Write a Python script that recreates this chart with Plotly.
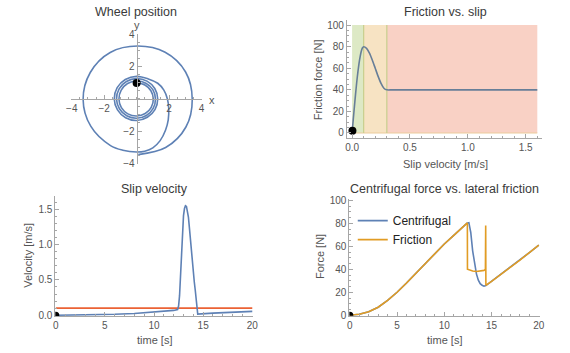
import plotly.graph_objects as go

FONT = "Liberation Sans"
BLUE = "#5E81B5"
ORANGE = "#E19C24"
RED = "#EB6235"
AX = "#a6a6a6"
TXT = "#555555"
TTL = "#3a3a3a"

# ---------------- data ----------------
# Wheel position
wheel_x = [0.00, 0.51, 0.88, 1.03, 0.90, 0.53, 0.00, -0.54, -0.94, -1.09, -0.95, -0.56,
           0.00, 0.57, 1.00, 1.16, 1.02, 0.60, 0.00, -0.61, -1.06, -1.24, -1.08, -0.63,
           0.00, 0.64, 1.12, 1.30, 1.13, 0.66, 0.00, -0.68, -1.18, -1.38, -1.20, -0.70,
           0.00, 0.72, 1.30, 1.68, 1.90, 1.98, 1.95, 1.78, 1.45, 1.00, 0.50, 0.00,
           -0.85, -1.61, -2.83, -3.30, -2.86, -1.63, 0.06, 1.76, 3.02, 3.43, 3.04, 1.79, 0.10]
wheel_y = [1.00, 0.87, 0.51, 0.00, -0.52, -0.91, -1.06, -0.93, -0.54, 0.00, 0.55, 0.96,
           1.12, 0.98, 0.58, 0.00, -0.59, -1.03, -1.20, -1.05, -0.61, 0.00, 0.63, 1.09,
           1.27, 1.11, 0.65, 0.00, -0.66, -1.14, -1.34, -1.17, -0.68, 0.00, 0.70, 1.21,
           1.41, 1.25, 0.98, 0.55, 0.00, -0.60, -1.30, -1.95, -2.60, -3.05, -3.26, -3.31,
           -3.20, -2.91, -1.70, -0.03, 1.65, 2.90, 3.30, 2.91, 1.68, -0.03, -1.75, -3.03, -3.47]
wheel_start = (0.0, 1.0)

# Friction vs slip
slip_v = [0, 0.01, 0.02, 0.03, 0.04, 0.05, 0.06, 0.07, 0.08, 0.09, 0.10,
          0.125, 0.15, 0.175, 0.2, 0.225, 0.25, 0.275, 0.3, 0.35, 1.6]
fric_f = [0, 12.5, 24.5, 36, 47, 56.5, 64.5, 71, 76, 79, 80,
          78.5, 74, 67.5, 60, 52.5, 46, 41.5, 40, 40, 40]
zone_edges = [0.0, 0.1, 0.3, 1.6]
zone_top = 100
zone_fill = ["#dde9c5", "#f7e3c3", "#f9d1c5"]
zone_line = "#c7cf8c"
slip_point = (0.003, 2)

# Slip velocity
t_slip = [0, 2, 4, 6, 8, 10, 11, 12, 12.4, 12.5, 12.6, 12.7, 12.8, 12.9, 13.0, 13.1,
          13.2, 13.3, 13.4, 13.5, 13.6, 13.7, 13.8, 13.9, 14.0, 14.1, 14.2, 14.3,
          14.4, 14.45, 16, 18, 20]
v_slip = [0, 0.002, 0.006, 0.014, 0.025, 0.042, 0.053, 0.068, 0.08, 0.13, 0.28, 0.55,
          0.98, 1.25, 1.41, 1.51, 1.55, 1.54, 1.48, 1.39, 1.24, 1.06, 0.89, 0.74, 0.60,
          0.47, 0.35, 0.20, 0.04, 0.015, 0.03, 0.042, 0.055]
slip_limit = 0.1
t_range = [0, 20]

# Centrifugal vs friction
t_cent = [0, 1, 2, 3, 4, 5, 6, 7, 8, 9, 10, 11, 12, 12.4, 12.6, 12.8, 13.0, 13.2,
          13.4, 13.6, 13.8, 14.0, 14.2, 14.4, 15, 16, 17, 18, 19, 20]
f_cent = [0, 0.8, 3, 7, 13, 20, 28, 36.5, 45.5, 54, 62, 69.5, 76.5, 80, 80.5, 72,
          56, 44, 36, 30.5, 27.5, 26, 25.3, 25.8, 29.5, 35.5, 41.5, 48, 54.5, 61]
t_fric = [0, 1, 2, 3, 4, 5, 6, 7, 8, 9, 10, 11, 12, 12.4, 12.44, 12.45, 12.6, 13.0,
          13.4, 13.8, 14.2, 14.35, 14.36, 14.38, 14.40, 15, 16, 17, 18, 19, 20]
f_fric = [0, 0.8, 3, 7, 13, 20, 28, 36.5, 45.5, 54, 62, 69.5, 76.5, 80, 80.3, 40,
          39.5, 38.5, 38, 38.2, 39, 40, 78, 78, 26, 29.5, 35.5, 41.5, 48, 54.5, 61]

# ---------------- figure ----------------
fig = go.Figure()

# Panel 1
fig.add_trace(go.Scatter(x=wheel_x, y=wheel_y, mode="lines", xaxis="x", yaxis="y",
                         line=dict(color=BLUE, width=1.6, shape="spline", smoothing=1.0),
                         showlegend=False))
fig.add_trace(go.Scatter(x=[wheel_start[0]], y=[wheel_start[1]], mode="markers",
                         xaxis="x", yaxis="y", marker=dict(color="black", size=8),
                         showlegend=False))

# Panel 2 zones
for i in range(len(zone_fill)):
    fig.add_trace(go.Scatter(x=[zone_edges[i], zone_edges[i], zone_edges[i + 1], zone_edges[i + 1]],
                             y=[0, zone_top, zone_top, 0], mode="lines", fill="toself",
                             fillcolor=zone_fill[i], line=dict(width=0),
                             xaxis="x2", yaxis="y2", showlegend=False, hoverinfo="skip"))
fig.add_trace(go.Scatter(x=[zone_edges[0], zone_edges[-1]], y=[0, 0], mode="lines",
                         line=dict(color="#eccb9c", width=1.2), xaxis="x2", yaxis="y2",
                         showlegend=False))
for e in zone_edges[1:3]:
    fig.add_trace(go.Scatter(x=[e, e], y=[0, zone_top], mode="lines",
                             line=dict(color=zone_line, width=1.2), xaxis="x2", yaxis="y2",
                             showlegend=False))
fig.add_trace(go.Scatter(x=slip_v, y=fric_f, mode="lines", xaxis="x2", yaxis="y2",
                         line=dict(color="#677e98", width=1.6, shape="spline", smoothing=0.6),
                         showlegend=False))
fig.add_trace(go.Scatter(x=[slip_point[0]], y=[slip_point[1]], mode="markers",
                         xaxis="x2", yaxis="y2", marker=dict(color="black", size=8),
                         cliponaxis=False, showlegend=False))

# Panel 3
fig.add_trace(go.Scatter(x=t_range, y=[slip_limit, slip_limit], mode="lines",
                         xaxis="x3", yaxis="y3", line=dict(color=RED, width=1.6),
                         showlegend=False))
fig.add_trace(go.Scatter(x=t_slip, y=v_slip, mode="lines", xaxis="x3", yaxis="y3",
                         line=dict(color=BLUE, width=1.6), showlegend=False))
fig.add_trace(go.Scatter(x=[0], y=[0], mode="markers", xaxis="x3", yaxis="y3",
                         marker=dict(color="black", size=7), showlegend=False))

# Panel 4
fig.add_trace(go.Scatter(x=t_cent, y=f_cent, mode="lines", xaxis="x4", yaxis="y4",
                         line=dict(color=BLUE, width=1.6), name="Centrifugal"))
fig.add_trace(go.Scatter(x=t_fric, y=f_fric, mode="lines", xaxis="x4", yaxis="y4",
                         line=dict(color=ORANGE, width=1.6), name="Friction"))
fig.add_trace(go.Scatter(x=[0], y=[0], mode="markers", xaxis="x4", yaxis="y4",
                         marker=dict(color="black", size=7), showlegend=False))


def axis(**kw):
    d = dict(showgrid=False, zeroline=False, showline=True, linecolor=AX, linewidth=1,
             ticks="inside", ticklen=4, tickcolor=AX, tickwidth=1,
             tickfont=dict(size=10, color=TXT, family=FONT), fixedrange=True)
    d.update(kw)
    return d


def minor(dt):
    return dict(ticks="inside", ticklen=2, tickcolor=AX, dtick=dt, tick0=0)


fig.update_layout(
    width=570, height=353, margin=dict(l=0, r=0, t=0, b=0),
    paper_bgcolor="white", plot_bgcolor="rgba(0,0,0,0)",
    font=dict(family=FONT, color=TXT),
    xaxis=axis(domain=[0.1175, 0.3526], range=[-4.06, 4.06], anchor="free", position=0.726,
               tickvals=[-4, -2, 2, 4], minor=minor(0.5)),
    yaxis=axis(domain=[0.5363, 0.9159], range=[-4.06, 4.06], anchor="free", position=0.2351,
               tickvals=[-4, -2, 2, 4], minor=minor(0.5)),
    xaxis2=axis(domain=[0.6105, 0.9588], range=[-0.045, 1.64], anchor="y2",
                tickvals=[0, 0.5, 1.0, 1.5], ticktext=["0.0", "0.5", "1.0", "1.5"],
                minor=minor(0.1)),
    yaxis2=axis(domain=[0.6127, 0.9571], range=[-4.5, 105], anchor="x2",
                tickvals=[0, 20, 40, 60, 80, 100], minor=minor(5)),
    xaxis3=axis(domain=[0.0898, 0.4433], range=[-0.05, 20.1], anchor="y3",
                tickvals=[0, 5, 10, 15, 20], minor=minor(1)),
    yaxis3=axis(domain=[0.0935, 0.4436], range=[-0.01, 1.69], anchor="x3",
                tickvals=[0, 0.5, 1.0, 1.5], ticktext=["0.0", "0.5", "1.0", "1.5"],
                minor=minor(0.1)),
    xaxis4=axis(domain=[0.6149, 0.9549], range=[-0.05, 20.1], anchor="y4",
                tickvals=[0, 5, 10, 15, 20], minor=minor(1)),
    yaxis4=axis(domain=[0.0938, 0.4357], range=[-0.5, 101.5], anchor="x4",
                tickvals=[0, 20, 40, 60, 80, 100], minor=minor(5)),
    legend=dict(x=0.621, y=0.4136, xanchor="left", yanchor="top",
                bgcolor="rgba(0,0,0,0)", font=dict(size=12, color="#222222", family=FONT),
                itemwidth=30, tracegroupgap=0),
)

W, H = 570.0, 353.0


def ann(text, px, py, size=12, color=TTL, angle=0):
    fig.add_annotation(text=text, x=px / W, y=1 - py / H, xref="paper", yref="paper",
                       showarrow=False, xanchor="center", yanchor="middle",
                       textangle=angle, font=dict(size=size, color=color, family=FONT))


ann("Wheel position", 133.5, 7, size=12.5)
ann("Friction vs. slip", 448, 7, size=12.5)
ann("Slip velocity", 152, 189, size=12.5)
ann("Centrifugal force vs. lateral friction", 447, 189, size=12.5)
ann("x", 211, 98, size=11, color=TXT)
ann("y", 134.5, 20.5, size=11, color=TXT)
ann("Friction force [N]", 318, 77, size=11, color=TXT, angle=-90)
ann("Slip velocity [m/s]", 448, 164, size=11, color=TXT)
ann("Velocity [m/s]", 23.5, 258, size=11, color=TXT, angle=-90)
ann("time [s]", 152, 345, size=11, color=TXT)
ann("Force [N]", 320, 259, size=11, color=TXT, angle=-90)
ann("time [s]", 447, 345, size=11, color=TXT)

fig.write_html("out.html")
